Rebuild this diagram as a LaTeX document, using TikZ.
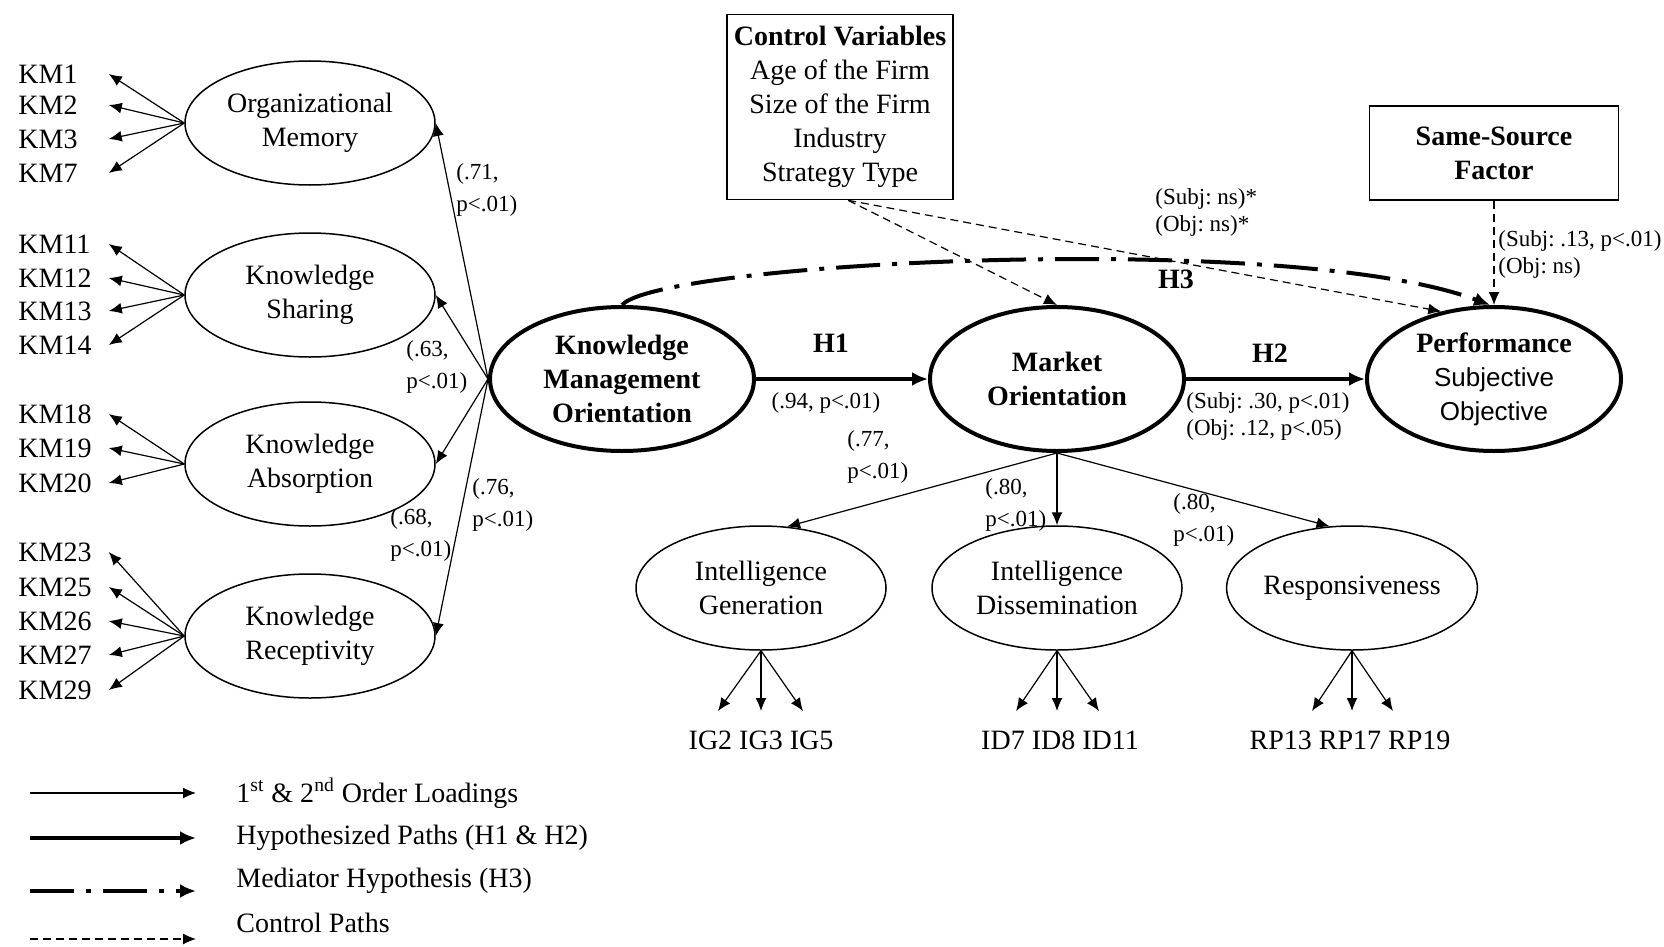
\documentclass[tikz,border=0pt]{standalone}
\usepackage{fontspec}
\setmainfont{Liberation Serif}
\setsansfont{Liberation Sans}
\usetikzlibrary{shapes.geometric,arrows.meta}
\frenchspacing

\tikzset{
  every node/.style={font=\fontsize{14}{17}\selectfont},
  factor/.style={ellipse, draw, line width=0.75pt, inner sep=0pt, minimum width=125pt, minimum height=62pt, align=center},
  core/.style={ellipse, draw, line width=2pt, inner sep=0pt, minimum width=127pt, minimum height=72pt, align=center, font=\bfseries\fontsize{14}{17}\selectfont},
  indicator/.style={anchor=west, inner sep=0pt, text width=45pt, align=left},
  infobox/.style={rectangle, draw, line width=0.8pt, align=center},
  coef/.style={anchor=west, inner sep=0pt, align=left, font=\fontsize{11.5}{16}\selectfont},
  subj/.style={anchor=west, inner sep=0pt, align=left, font=\fontsize{11.5}{13.5}\selectfont},
  hyplabel/.style={font=\bfseries\fontsize{14}{17}\selectfont},
  loading/.style={-{Latex[length=6.5pt,width=5.5pt]}, line width=0.6pt},
  hyppath/.style={-{Latex[length=8pt,width=7pt]}, line width=1.8pt},
  mediator/.style={-{Latex[length=8pt,width=7pt]}, line width=2pt, dash pattern=on 22pt off 6pt on 2.5pt off 6pt},
  control/.style={-{Latex[length=6.5pt,width=5.5pt]}, line width=0.6pt, dash pattern=on 4pt off 2.5pt}
}

\begin{document}
\begin{tikzpicture}[x=0.5pt, y=-0.5pt]
  % Background
  \path[fill=white] (0,0) rectangle (1664,947);

  % First-order constructs of KMO
  \node[factor] (OM) at (310,123) {Organizational\\Memory};
  \node[factor] (KS) at (310,295) {Knowledge\\Sharing};
  \node[factor] (KA) at (310,464) {Knowledge\\Absorption};
  \node[factor] (KR) at (310,636) {Knowledge\\Receptivity};

  % Second-order constructs
  \node[core, minimum width=132pt] (KMO) at (622,379) {Knowledge\\Management\\Orientation};
  \node[core] (MO) at (1057,379) {Market\\Orientation};
  \node[core] (PERF) at (1494,379) {Performance\\{\mdseries\sffamily\fontsize{13}{17}\selectfont Subjective}\\{\mdseries\sffamily\fontsize{13}{17}\selectfont Objective}};

  % First-order constructs of MO
  \node[factor] (IG) at (761,588) {Intelligence\\Generation};
  \node[factor] (ID) at (1057,588) {Intelligence\\Dissemination};
  \node[factor] (RESP) at (1352,588) {Responsiveness};

  % Boxes
  \node[infobox, minimum width=110pt, minimum height=92.5pt] (CV) at (840,107)
    {\textbf{Control Variables}\\Age of the Firm\\Size of the Firm\\Industry\\Strategy Type};
  \node[infobox, minimum width=124.5pt, minimum height=47pt, font=\bfseries\fontsize{14}{17}\selectfont] (SSF) at (1494,153)
    {Same-Source\\Factor};

  % KM items
  \node[indicator] (km1) at (18,74) {KM1};
  \node[indicator] (km2) at (18,105) {KM2};
  \node[indicator] (km3) at (18,139) {KM3};
  \node[indicator] (km7) at (18,173) {KM7};
  \node[indicator] (km11) at (18,244) {KM11};
  \node[indicator] (km12) at (18,278) {KM12};
  \node[indicator] (km13) at (18,311) {KM13};
  \node[indicator] (km14) at (18,345) {KM14};
  \node[indicator] (km18) at (18,414) {KM18};
  \node[indicator] (km19) at (18,448) {KM19};
  \node[indicator] (km20) at (18,483) {KM20};
  \node[indicator] (km23) at (18,552) {KM23};
  \node[indicator] (km25) at (18,587) {KM25};
  \node[indicator] (km26) at (18,621) {KM26};
  \node[indicator] (km27) at (18,655) {KM27};
  \node[indicator] (km29) at (18,690) {KM29};

  \draw[loading] (OM.west) -- (km1.east);
  \draw[loading] (OM.west) -- (km2.east);
  \draw[loading] (OM.west) -- (km3.east);
  \draw[loading] (OM.west) -- (km7.east);
  \draw[loading] (KS.west) -- (km11.east);
  \draw[loading] (KS.west) -- (km12.east);
  \draw[loading] (KS.west) -- (km13.east);
  \draw[loading] (KS.west) -- (km14.east);
  \draw[loading] (KA.west) -- (km18.east);
  \draw[loading] (KA.west) -- (km19.east);
  \draw[loading] (KA.west) -- (km20.east);
  \draw[loading] (KR.west) -- (km23.east);
  \draw[loading] (KR.west) -- (km25.east);
  \draw[loading] (KR.west) -- (km26.east);
  \draw[loading] (KR.west) -- (km27.east);
  \draw[loading] (KR.west) -- (km29.east);

  % MO items
  \node (igl) at (761,740) {IG2 IG3 IG5};
  \node (idl) at (1060,740) {ID7 ID8 ID11};
  \node (rpl) at (1350,740) {RP13 RP17 RP19};
  \coordinate (ig2) at (718,711);
  \coordinate (ig3) at (761,711);
  \coordinate (ig5) at (803,711);
  \coordinate (id7) at (1016,711);
  \coordinate (id8) at (1057,711);
  \coordinate (id11) at (1099,711);
  \coordinate (rp13) at (1312,711);
  \coordinate (rp17) at (1352,711);
  \coordinate (rp19) at (1393,711);
  \draw[loading] (IG.south) -- (ig2);
  \draw[loading] (IG.south) -- (ig3);
  \draw[loading] (IG.south) -- (ig5);
  \draw[loading] (ID.south) -- (id7);
  \draw[loading] (ID.south) -- (id8);
  \draw[loading] (ID.south) -- (id11);
  \draw[loading] (RESP.south) -- (rp13);
  \draw[loading] (RESP.south) -- (rp17);
  \draw[loading] (RESP.south) -- (rp19);

  % Second-order loadings
  \draw[loading] (KMO.west) -- (OM.east);
  \draw[loading] (KMO.west) -- (KS.east);
  \draw[loading] (KMO.west) -- (KA.east);
  \draw[loading] (KMO.west) -- (KR.east);
  \draw[loading] (MO.south) -- (IG.67);
  \draw[loading] (MO.south) -- (ID.north);
  \draw[loading] (MO.south) -- (RESP.110);

  % Control paths
  \draw[control] (CV.-85) -- (MO.north);
  \draw[control] (CV.-85) -- (PERF.128);
  \draw[control] (SSF.south) -- (PERF.north);

  % Hypotheses
  \draw[hyppath] (KMO.east) -- (MO.west);
  \draw[hyppath] (MO.east) -- (PERF.west);
  \draw[mediator] (KMO.north) .. controls (660,262) and (1290,230) .. (PERF.93);

  % Path labels
  \node[hyplabel] (h1) at (831,343) {H1};
  \node[hyplabel] (h2) at (1270,353) {H2};
  \node[hyplabel] (h3) at (1176,279) {H3};
  \node[coef] (c71) at (456,190) {(.71,\\p<.01)};
  \node[coef] (c63) at (406,367) {(.63,\\p<.01)};
  \node[coef] (c68) at (390,535) {(.68,\\p<.01)};
  \node[coef] (c76) at (472,505) {(.76,\\p<.01)};
  \node[coef, anchor=center] (c94) at (826,403) {(.94, p<.01)};
  \node[coef] (c77) at (847,457) {(.77,\\p<.01)};
  \node[coef] (c80a) at (985,505) {(.80,\\p<.01)};
  \node[coef] (c80b) at (1173,520) {(.80,\\p<.01)};
  \node[subj] (sh2) at (1186,416) {(Subj: .30, p<.01)\\(Obj: .12, p<.05)};
  \node[subj] (sh3) at (1155,212) {(Subj: ns)*\\(Obj: ns)*};
  \node[subj] (sssf) at (1498,254) {(Subj: .13, p<.01)\\(Obj: ns)};

  % Legend
  \coordinate (k1a) at (30,793);
  \coordinate (k1b) at (196,793);
  \coordinate (k2a) at (30,838);
  \coordinate (k2b) at (196,838);
  \coordinate (k3a) at (30,891);
  \coordinate (k3b) at (196,891);
  \coordinate (k4a) at (30,939);
  \coordinate (k4b) at (196,939);
  \draw[loading] (k1a) -- (k1b);
  \draw[hyppath] (k2a) -- (k2b);
  \draw[mediator] (k3a) -- (k3b);
  \draw[control] (k4a) -- (k4b);
  \node[anchor=west, inner sep=0pt] (k1) at (236,793) {1\textsuperscript{st} \& 2\textsuperscript{nd} Order Loadings};
  \node[anchor=west, inner sep=0pt] (k2) at (236,838) {Hypothesized Paths (H1 \& H2)};
  \node[anchor=west, inner sep=0pt] (k3) at (236,881) {Mediator Hypothesis (H3)};
  \node[anchor=west, inner sep=0pt] (k4) at (236,923) {Control Paths};

\end{tikzpicture}
\end{document}
